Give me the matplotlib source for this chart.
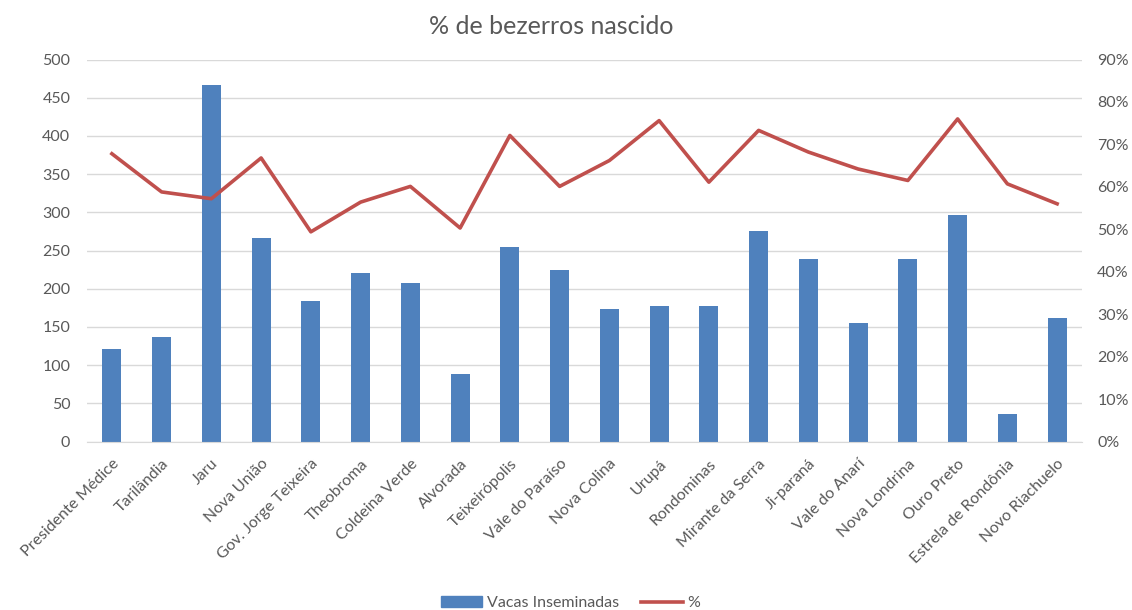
import matplotlib
matplotlib.use("Agg")
import matplotlib.pyplot as plt
from matplotlib.ticker import FuncFormatter, MultipleLocator
from matplotlib.patches import Patch
from matplotlib.lines import Line2D

categories = ["Presidente Médice", "Tarilândia", "Jaru", "Nova União", "Gov. Jorge Teixeira",
              "Theobroma", "Coldeina Verde", "Alvorada", "Teixeirópolis", "Vale do Paraíso",
              "Nova Colina", "Urupá", "Rondominas", "Mirante da Serra", "Ji-paraná",
              "Vale do Anarí", "Nova Londrina", "Ouro Preto", "Estrela de Rondônia", "Novo Riachuelo"]
vacas = [121, 137, 467, 267, 184, 220, 208, 88, 255, 224,
         174, 177, 178, 275, 239, 155, 239, 297, 36, 161]
pct = [67.8, 58.8, 57.2, 66.8, 49.4, 56.4, 60.1, 50.3, 72.1, 60.1,
       66.2, 75.6, 61.1, 73.3, 68.2, 64.2, 61.5, 76.0, 60.7, 56.0]

plt.rcParams['font.family'] = ['Lato', 'DejaVu Sans']
txt = '#595959'
grid = '#d9d9d9'

fig = plt.figure(figsize=(11.32, 6.10), dpi=100)
ax = fig.add_axes([87/1132, 1-441.5/610, 995/1132, 382/610])
x = list(range(len(categories)))
ax.bar(x, vacas, width=0.38, color='#4f81bd', zorder=2)
ax.set_xlim(-0.5, len(categories)-0.5)
ax.set_ylim(0, 500)
ax.yaxis.set_major_locator(MultipleLocator(50))
ax.grid(axis='y', color=grid, linewidth=1, zorder=0)
ax.set_axisbelow(True)
for s in ['top', 'right', 'left']:
    ax.spines[s].set_visible(False)
ax.spines['bottom'].set_color(grid)
ax.tick_params(axis='both', length=0, colors=txt)
ax.tick_params(axis='y', pad=12, labelsize=11.5)
ax.set_xticks(x)
ax.set_xticklabels(categories, rotation=45, ha='right', rotation_mode='anchor', fontsize=11.5)
ax.tick_params(axis='x', pad=11)

ax2 = ax.twinx()
ax2.plot(x, pct, color='#c0504d', linewidth=2.6, zorder=3, solid_joinstyle='round')
ax2.set_ylim(0, 90)
ax2.yaxis.set_major_locator(MultipleLocator(10))
ax2.yaxis.set_major_formatter(FuncFormatter(lambda v, p: f"{v:.0f}%"))
for s in ['top', 'right', 'left', 'bottom']:
    ax2.spines[s].set_visible(False)
ax2.tick_params(axis='y', length=0, colors=txt, labelsize=11.5, pad=11)

fig.text(0.487, 1-27/610, "% de bezerros nascido", ha='center', va='center',
         fontsize=18, color=txt)

handles = [Patch(color='#4f81bd', label='Vacas Inseminadas'),
           Line2D([0], [0], color='#c0504d', linewidth=2.6, label='%')]
fig.legend(handles=handles, loc='center', bbox_to_anchor=(0.504, 1-603/610), ncol=2,
           frameon=False, fontsize=11.5, labelcolor=txt, handlelength=2.6,
           handletextpad=0.3, columnspacing=1.4)

fig.savefig("out.png", dpi=100, facecolor='white')
